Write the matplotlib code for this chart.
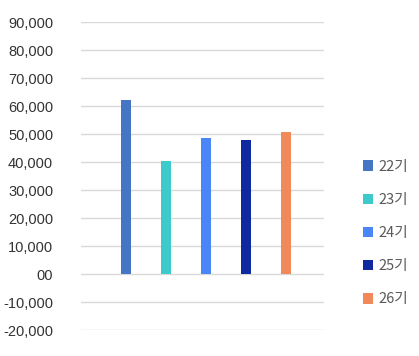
import matplotlib
matplotlib.use("Agg")
import matplotlib.pyplot as plt
from matplotlib.ticker import FuncFormatter

series = ["22기", "23기", "24기", "25기", "26기"]
values = [62100, 40400, 48600, 47900, 50700]
colors = ["#4575C4", "#3CCACA", "#4A86F8", "#0F29A0", "#F2895B"]
yticks = list(range(-20000, 90001, 10000))

plt.rcParams["font.family"] = ["Liberation Sans", "Noto Sans CJK KR", "DejaVu Sans"]

fig = plt.figure(figsize=(4.19, 3.56), dpi=100)
fig.patch.set_facecolor("white")
ax = fig.add_axes([81 / 419, 26 / 356, 243 / 419, 308 / 356])

bars = []
for i, (name, v, c) in enumerate(zip(series, values, colors)):
    b = ax.bar(i, v, width=0.25, color=c, label=name, zorder=3)
    bars.append(b)

ax.set_xlim(-1.125, 4.95)
ax.set_ylim(-20000, 90000)
ax.set_yticks(yticks)


def fmt(v, pos):
    if v == 0:
        return "00"
    s = f"{abs(int(v)):,}"
    return "-" + s if v < 0 else s


ax.yaxis.set_major_formatter(FuncFormatter(fmt))
ax.grid(axis="y", color="#D9D9D9", linewidth=1.0, zorder=0)
ax.set_xticks([])
for s in ax.spines.values():
    s.set_visible(False)
ax.tick_params(axis="y", length=0, pad=20, labelsize=10.5, labelcolor="#333333")

leg = fig.legend(handles=[b[0] for b in bars], labels=series,
                 loc="center left", bbox_to_anchor=(357 / 419, 1 - 233 / 356),
                 frameon=False, handlelength=0.7, handleheight=0.7,
                 handletextpad=0.4, labelspacing=1.32, borderaxespad=0,
                 prop={"family": ["Noto Sans CJK KR", "DejaVu Sans"], "size": 10.5})
for t in leg.get_texts():
    t.set_color("#595959")

fig.savefig("out.png", dpi=100, facecolor="white")
